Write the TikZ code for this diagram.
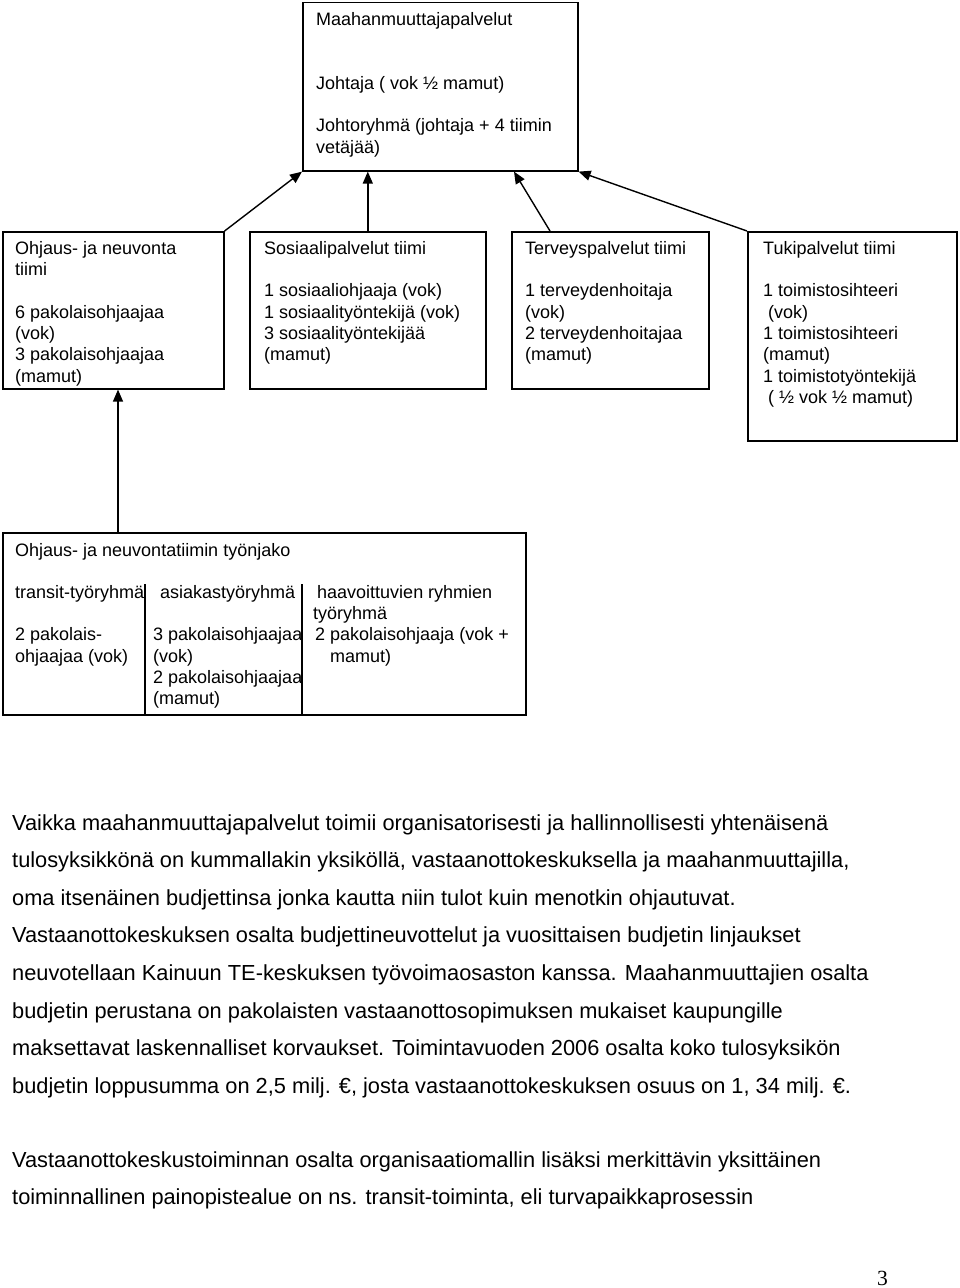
\documentclass[tikz,border=0pt]{standalone}
\usepackage{fontspec}
\setmainfont{Liberation Sans}
\newfontfamily\pagenumfont{Liberation Serif}
\usetikzlibrary{arrows.meta,calc}
\begin{document}
\begin{tikzpicture}[x=1pt,y=-1pt,
  box/.style={draw, line width=1.6pt, inner sep=0pt, anchor=north west},
  arr/.style={line width=1.4pt, -{Triangle[length=12pt,width=10pt]}},
  boxtxt/.style={anchor=north west, inner sep=0pt, align=left, font=\fontsize{18}{21.3}\selectfont},
  bodytxt/.style={anchor=north west, inner sep=0pt, align=left, font=\fontsize{21.8}{37.6}\selectfont},
  divider/.style={line width=1.6pt}]
\useasboundingbox (0,0) rectangle (960,1288);
% boxes
\node[box, minimum width=275pt, minimum height=168.5pt] (top) at (302,1.5) {};
\node[box, minimum width=221pt, minimum height=157pt] (ohj) at (2,231) {};
\node[box, minimum width=236pt, minimum height=157pt] (sos) at (249,231) {};
\node[box, minimum width=197pt, minimum height=157pt] (ter) at (511,231) {};
\node[box, minimum width=209pt, minimum height=209pt] (tuk) at (747,231) {};
\node[box, minimum width=523pt, minimum height=182pt] (bot) at (2,532) {};
% box texts
\node[boxtxt] (toptxt) at (316,12) {Maahanmuuttajapalvelut\\[42.6pt]Johtaja ( vok ½ mamut)\\[21.3pt]Johtoryhmä (johtaja + 4 tiimin\\vetäjää)};
\node[boxtxt] (ohjtxt) at (15,241) {Ohjaus- ja neuvonta\\tiimi\\[21.3pt]6 pakolaisohjaajaa\\(vok)\\3 pakolaisohjaajaa\\(mamut)};
\node[boxtxt] (sostxt) at (264,241) {Sosiaalipalvelut tiimi\\[21.3pt]1 sosiaaliohjaaja (vok)\\1 sosiaalityöntekijä (vok)\\3 sosiaalityöntekijää\\(mamut)};
\node[boxtxt] (tertxt) at (525,241) {Terveyspalvelut tiimi\\[21.3pt]1 terveydenhoitaja\\(vok)\\2 terveydenhoitajaa\\(mamut)};
\node[boxtxt] (tuktxt) at (763,241) {Tukipalvelut tiimi\\[21.3pt]1 toimistosihteeri\\\hspace*{5pt}(vok)\\1 toimistosihteeri\\(mamut)\\1 toimistotyöntekijä\\\hspace*{5pt}( ½ vok ½ mamut)};
% bottom box contents
\draw[divider] ($(bot.north west)+(143,52)$) coordinate (d1a) -- (d1a |- bot.south);
\draw[divider] ($(bot.north west)+(300,52)$) coordinate (d2a) -- (d2a |- bot.south);
\node[boxtxt] (bothead) at (15,543) {Ohjaus- ja neuvontatiimin työnjako};
\node[boxtxt] (col1) at (15,585) {transit-työryhmä\\[21.3pt]2 pakolais-\\ohjaajaa (vok)};
\begin{scope}
\clip (145,584) rectangle (301.5,714);
\node[boxtxt] (col2) at (153,585) {\hspace*{7pt}asiakastyöryhmä\\[21.3pt]3 pakolaisohjaajaa\\(vok)\\2 pakolaisohjaajaa\\(mamut)};
\end{scope}
\node[boxtxt] (col3) at (313,585) {\hspace*{4pt}haavoittuvien ryhmien\\työryhmä\\\hspace*{2pt}2 pakolaisohjaaja (vok +\\\hspace*{17pt}mamut)};
% connectors
\draw[arr] (ohj.north east) -- (top.south west);
\draw[arr] (sos.north) -- (sos.north |- top.south);
\draw[arr] ($(ter.north west)+(39,0)$) -- ($(top.south west)+(212,0)$);
\draw[arr] (tuk.north west) -- (top.south east);
\draw[arr] ($(bot.north west)+(116,0)$) coordinate (bup) -- (bup |- ohj.south);
% body text
\node[bodytxt] (para1) at (12,814) {Vaikka maahanmuuttajapalvelut toimii organisatorisesti ja hallinnollisesti yhtenäisenä\\
tulosyksikkönä on kummallakin yksiköllä, vastaanottokeskuksella ja maahanmuuttajilla,\\
oma itsenäinen budjettinsa jonka kautta niin tulot kuin menotkin ohjautuvat.\\
Vastaanottokeskuksen osalta budjettineuvottelut ja vuosittaisen budjetin linjaukset\\
neuvotellaan Kainuun TE-keskuksen työvoimaosaston kanssa. Maahanmuuttajien osalta\\
budjetin perustana on pakolaisten vastaanottosopimuksen mukaiset kaupungille\\
maksettavat laskennalliset korvaukset. Toimintavuoden 2006 osalta koko tulosyksikön\\
budjetin loppusumma on 2,5 milj. €, josta vastaanottokeskuksen osuus on 1, 34 milj. €.};
\node[bodytxt] (para2) at (12,1151) {Vastaanottokeskustoiminnan osalta organisaatiomallin lisäksi merkittävin yksittäinen\\
toiminnallinen painopistealue on ns. transit-toiminta, eli turvapaikkaprosessin};
\node[anchor=base west, inner sep=0pt, font=\pagenumfont\fontsize{21.6}{24}\selectfont] (pnum) at (877,1285) {3};
\end{tikzpicture}
\end{document}
